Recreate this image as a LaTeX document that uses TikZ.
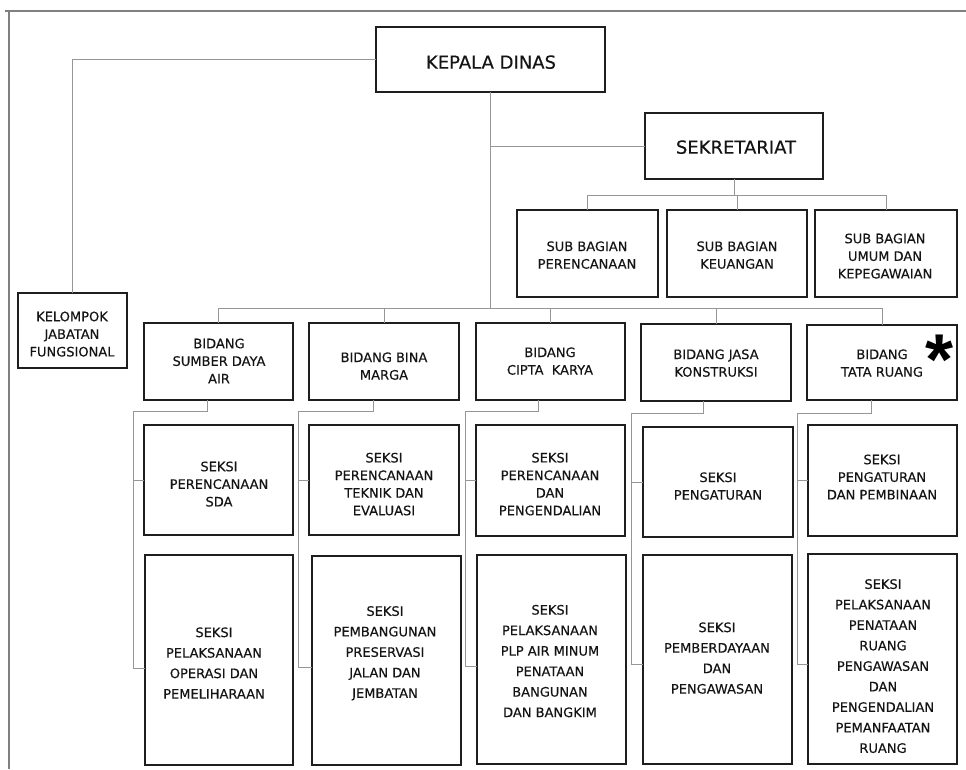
\documentclass[tikz,border=0pt]{standalone}
\usepackage{fontspec}
\setmainfont{DejaVu Sans}
\newfontfamily\orgfont{DejaVu Sans}[FakeBold=0.3]
\newfontfamily\starfont{Liberation Sans}
\usetikzlibrary{calc}

\definecolor{connc}{RGB}{150,150,150}
\definecolor{framec}{RGB}{128,128,128}
\definecolor{boxc}{RGB}{30,30,30}
\definecolor{textc}{RGB}{20,20,20}

% box from its corners: name, x1, y1, x2, y2
\newcommand\orgbox[5]{%
  \node[box, minimum width={(#4)-(#2)}, minimum height={(#5)-(#3)}]
    (#1) at ({((#2)+(#4))/2},{((#3)+(#5))/2}) {};}

\begin{document}
\begin{tikzpicture}[x=1pt,y=-1pt,
  box/.style={draw=boxc, line width=1.5pt, fill=white, inner sep=0pt, outer sep=0pt},
  lbl/.style={align=center, inner sep=0pt, text depth=0pt, text=textc,
              font=\orgfont\fontsize{13}{17.6}\selectfont},
  lblwide/.style={lbl, font=\orgfont\fontsize{13}{20.5}\selectfont},
  head/.style={inner sep=0pt, text depth=0pt, text=textc,
               font=\orgfont\fontsize{18}{22}\selectfont},
  conn/.style={draw=connc, line width=1pt},
  frameline/.style={draw=framec, line width=2pt}]

\useasboundingbox (0,0) rectangle (966,769);

% page frame
\draw[frameline] (5,11) -- (966,11);
\draw[frameline] (9,11) -- (9,769);

% ---------- boxes ----------
\orgbox{kd}{376}{27}{605}{92}
\orgbox{sek}{645}{113}{823}{179}
\orgbox{sb1}{517}{210}{658}{297}
\orgbox{sb2}{667}{210}{807}{297}
\orgbox{sb3}{815}{210}{957}{297}
\orgbox{kjf}{18}{293}{127}{368}
\orgbox{b1}{144}{323}{293}{400}
\orgbox{b2}{309}{323}{459}{400}
\orgbox{b3}{476}{323}{625}{400}
\orgbox{b4}{641}{324}{791}{401}
\orgbox{b5}{807}{325}{957}{400}
\orgbox{s1a}{144}{425}{293}{535}
\orgbox{s2a}{309}{425}{459}{535}
\orgbox{s3a}{476}{425}{625}{536}
\orgbox{s4a}{643}{427}{793}{537}
\orgbox{s5a}{808}{425}{957}{536}
\orgbox{s1b}{145}{555}{293}{765}
\orgbox{s2b}{312}{556}{461}{765}
\orgbox{s3b}{477}{555}{626}{764}
\orgbox{s4b}{643}{555}{792}{764}
\orgbox{s5b}{808}{554}{957}{764}

% ---------- labels ----------
\node[head] (kd-t) at (491,62) {KEPALA DINAS};
\node[head] (sek-t) at (736,147) {SEKRETARIAT};
\node[lbl] (sb1-t) at (587,255) {SUB BAGIAN\\PERENCANAAN};
\node[lbl] (sb2-t) at (737,255) {SUB BAGIAN\\KEUANGAN};
\node[lbl] (sb3-t) at (885,256) {SUB BAGIAN\\UMUM DAN\\KEPEGAWAIAN};
\node[lbl] (kjf-t) at (72,334) {KELOMPOK\\JABATAN\\FUNGSIONAL};
\node[lbl] (b1-t) at (219,361) {BIDANG\\SUMBER DAYA\\AIR};
\node[lbl] (b2-t) at (384,366) {BIDANG BINA\\MARGA};
\node[lbl] (b3-t) at (550,361) {BIDANG\\CIPTA~ KARYA};
\node[lbl] (b4-t) at (716,363) {BIDANG JASA\\KONSTRUKSI};
\node[lbl] (b5-t) at (882,363) {BIDANG\\TATA RUANG};
\node[inner sep=0pt, anchor=base, text=black,
      font=\starfont\bfseries\fontsize{72}{72}\selectfont] (star) at (939,384) {*};

\node[lbl] (s1a-t) at (219,484) {SEKSI\\PERENCANAAN\\SDA};
\node[lbl] (s2a-t) at (384,484) {SEKSI\\PERENCANAAN\\TEKNIK DAN\\EVALUASI};
\node[lbl] (s3a-t) at (550,484) {SEKSI\\PERENCANAAN\\DAN\\PENGENDALIAN};
\node[lbl] (s4a-t) at (718,486) {SEKSI\\PENGATURAN};
\node[lbl] (s5a-t) at (882,477) {SEKSI\\PENGATURAN\\DAN PEMBINAAN};

\node[lblwide] (s1b-t) at (214,663) {SEKSI\\PELAKSANAAN\\OPERASI DAN\\PEMELIHARAAN};
\node[lblwide] (s2b-t) at (385,652) {SEKSI\\PEMBANGUNAN\\PRESERVASI\\JALAN DAN\\JEMBATAN};
\node[lblwide] (s3b-t) at (550,661) {SEKSI\\PELAKSANAAN\\PLP AIR MINUM\\PENATAAN\\BANGUNAN\\DAN BANGKIM};
\node[lblwide] (s4b-t) at (717,658) {SEKSI\\PEMBERDAYAAN\\DAN\\PENGAWASAN};
\node[lblwide] (s5b-t) at (883,666) {SEKSI\\PELAKSANAAN\\PENATAAN\\RUANG\\PENGAWASAN\\DAN\\PENGENDALIAN\\PEMANFAATAN\\RUANG};

% ---------- connectors ----------
\coordinate (busS) at (0,195);
\coordinate (busB) at (0,308);

% head to functional group
\draw[conn] (kd.west) -| (kjf.north);
% main trunk and secretariat branch
\draw[conn] (kd.south) -- (kd.south |- busB);
\draw[conn] (kd.south |- sek.west) -- (sek.west);
% secretariat to sub-sections
\draw[conn] (sek.south) -- (sek.south |- busS);
\draw[conn] (sb1.north |- busS) -- (sb3.north |- busS);
\foreach \n in {sb1,sb2,sb3}{\draw[conn] (\n.north |- busS) -- (\n.north);}
% trunk to departments
\draw[conn] (b1.north |- busB) -- (b5.north |- busB);
\foreach \n in {b1,b2,b3,b4,b5}{\draw[conn] (\n.north |- busB) -- (\n.north);}

% department spines down to the sections
\coordinate (sp1) at (133,411);
\coordinate (sp2) at (298,411);
\coordinate (sp3) at (465,411);
\coordinate (sp4) at (631,413);
\coordinate (sp5) at (797,413);
\foreach \i/\dx/\dy in {1/-11/8, 2/-11/6.5, 3/-12/6.5, 4/-13/4.5, 5/-11/5}{
  \draw[conn] ($(b\i.south)+(\dx,0)$) |- (sp\i) |- ($(s\i b.west)+(0,\dy)$);
  \draw[conn] (sp\i |- s\i a.west) -- (s\i a.west);
}
\end{tikzpicture}
\end{document}
